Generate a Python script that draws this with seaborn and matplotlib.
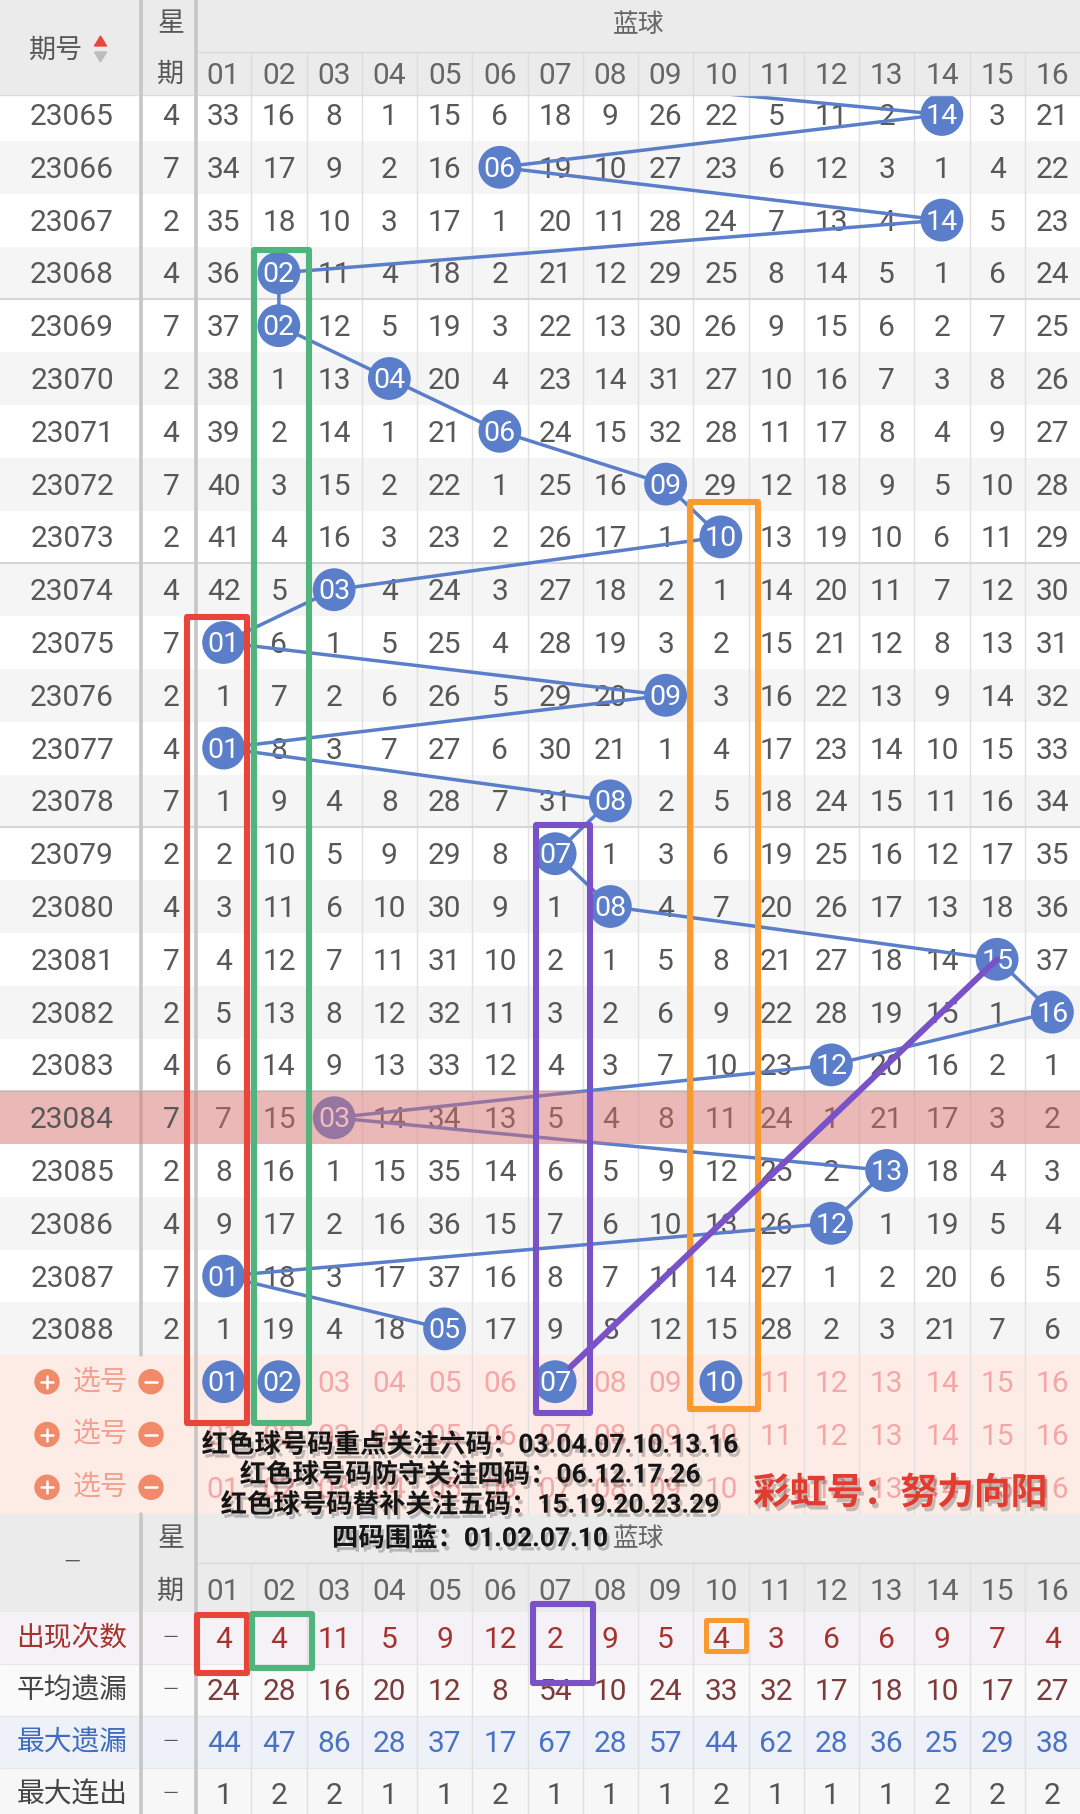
import matplotlib
matplotlib.use("Agg")
import matplotlib.pyplot as plt
import matplotlib.patheffects as pe
from matplotlib.patches import Rectangle, Circle, Polygon
import pandas as pd
import seaborn as sns

# ---------------- data ----------------
periods = [23065, 23066, 23067, 23068, 23069, 23070, 23071, 23072, 23073, 23074, 23075, 23076,
           23077, 23078, 23079, 23080, 23081, 23082, 23083, 23084, 23085, 23086, 23087, 23088]
weekdays = [4, 7, 2, 4, 7, 2, 4, 7, 2, 4, 7, 2, 4, 7, 2, 4, 7, 2, 4, 7, 2, 4, 7, 2]
columns = ["01", "02", "03", "04", "05", "06", "07", "08", "09", "10", "11", "12", "13", "14", "15", "16"]
winners = [14, 6, 14, 2, 2, 4, 6, 9, 10, 3, 1, 9, 1, 8, 7, 8, 15, 16, 12, 3, 13, 12, 1, 5]
prev_winner = 4
omission = [
    [33, 16, 8, 1, 15, 6, 18, 9, 26, 22, 5, 11, 2, 0, 3, 21],
    [34, 17, 9, 2, 16, 0, 19, 10, 27, 23, 6, 12, 3, 1, 4, 22],
    [35, 18, 10, 3, 17, 1, 20, 11, 28, 24, 7, 13, 4, 0, 5, 23],
    [36, 0, 11, 4, 18, 2, 21, 12, 29, 25, 8, 14, 5, 1, 6, 24],
    [37, 0, 12, 5, 19, 3, 22, 13, 30, 26, 9, 15, 6, 2, 7, 25],
    [38, 1, 13, 0, 20, 4, 23, 14, 31, 27, 10, 16, 7, 3, 8, 26],
    [39, 2, 14, 1, 21, 0, 24, 15, 32, 28, 11, 17, 8, 4, 9, 27],
    [40, 3, 15, 2, 22, 1, 25, 16, 0, 29, 12, 18, 9, 5, 10, 28],
    [41, 4, 16, 3, 23, 2, 26, 17, 1, 0, 13, 19, 10, 6, 11, 29],
    [42, 5, 0, 4, 24, 3, 27, 18, 2, 1, 14, 20, 11, 7, 12, 30],
    [0, 6, 1, 5, 25, 4, 28, 19, 3, 2, 15, 21, 12, 8, 13, 31],
    [1, 7, 2, 6, 26, 5, 29, 20, 0, 3, 16, 22, 13, 9, 14, 32],
    [0, 8, 3, 7, 27, 6, 30, 21, 1, 4, 17, 23, 14, 10, 15, 33],
    [1, 9, 4, 8, 28, 7, 31, 0, 2, 5, 18, 24, 15, 11, 16, 34],
    [2, 10, 5, 9, 29, 8, 0, 1, 3, 6, 19, 25, 16, 12, 17, 35],
    [3, 11, 6, 10, 30, 9, 1, 0, 4, 7, 20, 26, 17, 13, 18, 36],
    [4, 12, 7, 11, 31, 10, 2, 1, 5, 8, 21, 27, 18, 14, 0, 37],
    [5, 13, 8, 12, 32, 11, 3, 2, 6, 9, 22, 28, 19, 15, 1, 0],
    [6, 14, 9, 13, 33, 12, 4, 3, 7, 10, 23, 0, 20, 16, 2, 1],
    [7, 15, 0, 14, 34, 13, 5, 4, 8, 11, 24, 1, 21, 17, 3, 2],
    [8, 16, 1, 15, 35, 14, 6, 5, 9, 12, 25, 2, 0, 18, 4, 3],
    [9, 17, 2, 16, 36, 15, 7, 6, 10, 13, 26, 0, 1, 19, 5, 4],
    [0, 18, 3, 17, 37, 16, 8, 7, 11, 14, 27, 1, 2, 20, 6, 5],
    [1, 19, 4, 18, 0, 17, 9, 8, 12, 15, 28, 2, 3, 21, 7, 6],
]
picked = [1, 2, 7, 10]
highlight_period = 23084
stat_labels = ["出现次数", "平均遗漏", "最大遗漏", "最大连出"]
appear_count = [4, 4, 11, 5, 9, 12, 2, 9, 5, 4, 3, 6, 6, 9, 7, 4]
avg_omit = [24, 28, 16, 20, 12, 8, 54, 10, 24, 33, 32, 17, 18, 10, 17, 27]
max_omit = [44, 47, 86, 28, 37, 17, 67, 28, 57, 44, 62, 28, 36, 25, 29, 38]
max_streak = [1, 2, 2, 1, 1, 2, 1, 1, 1, 2, 1, 1, 1, 2, 2, 2]
notes = ["红色球号码重点关注六码：03.04.07.10.13.16",
         "红色球号码防守关注四码：06.12.17.26",
         "红色球号码替补关注五码：15.19.20.23.29",
         "四码围蓝：01.02.07.10"]
signature = "彩虹号：努力向阳"

# ---------------- layout ----------------
W, H = 1080, 1814
XS1, XS2 = 141, 196
CW = 55.25
Y0, RH = 114.5, 52.8
HEAD_SPLIT, HEAD_BOT = 52, 95
SEL_TOP = Y0 + RH * 23.5
SEL_BOT = Y0 + RH * 26.5
BH_SPLIT = 1563
ST_TOP, RS = 1612, 52
TY = 2.5  # optical baseline shift for digits


def cx(c):
    return XS2 + CW * (c - 0.5)


def cy(r):
    return Y0 + RH * r


BALL = "#5a7ec9"
GRAYTXT = "#585858"
FS = 21.5

sns.set_theme(style="white")
plt.rcParams['font.family'] = ['Roboto', 'Noto Sans CJK SC', 'DejaVu Sans']

fig = plt.figure(figsize=(10.8, 18.14), dpi=100)
ax = fig.add_axes([0, 0, 1, 1])

# ---------------- backgrounds ----------------
for r in range(len(periods)):
    ax.add_patch(Rectangle((0, cy(r) - RH / 2), W, RH,
                           color="white" if r % 2 == 0 else "#f5f5f5", zorder=0, lw=0))
ax.add_patch(Rectangle((0, SEL_TOP), W, SEL_BOT - SEL_TOP, color="#fdece6", zorder=0, lw=0))
ax.add_patch(Rectangle((0, SEL_BOT), W, ST_TOP - SEL_BOT, color="#ebebeb", zorder=0, lw=0))
stat_bg = ["#f4f2f6", "#fafafa", "#eef1f8", "#f7f7f7"]
for i in range(4):
    ax.add_patch(Rectangle((0, ST_TOP + RS * i), W, RS, color=stat_bg[i], zorder=0, lw=0))

# grid lines
for k in range(1, 16):
    x = XS2 + CW * k
    ax.plot([x, x], [HEAD_SPLIT, SEL_BOT], color="#e0e0e0", lw=1, zorder=1)
    ax.plot([x, x], [BH_SPLIT, H], color="#e0e0e0", lw=1, zorder=1)
for r in (3, 8, 13, 18):
    ax.plot([0, W], [cy(r) + RH / 2] * 2, color="#d6d6d6", lw=1.5, zorder=1)
ax.plot([XS2, W], [BH_SPLIT, BH_SPLIT], color="#d9d9d9", lw=1, zorder=1)
for i in range(1, 4):
    ax.plot([0, W], [ST_TOP + RS * i] * 2, color="#e6e6e6", lw=0.8, zorder=1)
ax.plot([XS1, XS1], [0, SEL_TOP], color="#c6c6c6", lw=2.6, zorder=1)
ax.plot([XS1, XS1], [SEL_BOT, H], color="#c6c6c6", lw=2.6, zorder=1)
ax.plot([XS2, XS2], [0, H], color="#c6c6c6", lw=2.6, zorder=1)

# ---------------- table numbers ----------------
for r, (p, wd, row) in enumerate(zip(periods, weekdays, omission)):
    zl = 8 if p == highlight_period else 2
    ax.text(72, cy(r) + TY, str(p), ha="center", va="center", fontsize=FS, color=GRAYTXT, zorder=zl)
    ax.text(171, cy(r) + TY, str(wd), ha="center", va="center", fontsize=FS, color=GRAYTXT, zorder=zl)
    for c, v in enumerate(row, start=1):
        if c == winners[r]:
            continue
        ax.text(cx(c), cy(r) + TY, str(v), ha="center", va="center", fontsize=FS, color=GRAYTXT, zorder=2)

# ---------------- trend line + balls (seaborn) ----------------
line_df = pd.DataFrame({
    "x": [cx(prev_winner)] + [cx(w) for w in winners],
    "y": [cy(-1)] + [cy(r) for r in range(len(winners))],
})
sns.lineplot(data=line_df, x="x", y="y", sort=False, estimator=None, color=BALL,
             lw=2.5, ax=ax, zorder=3, legend=False)

ball_df = pd.DataFrame({
    "x": [cx(w) for w in winners] + [cx(c) for c in picked],
    "y": [cy(r) for r in range(len(winners))] + [cy(24)] * len(picked),
    "label": [columns[w - 1] for w in winners] + [columns[c - 1] for c in picked],
})
sns.scatterplot(data=ball_df, x="x", y="y", s=950, color=BALL, edgecolor="none",
                ax=ax, zorder=4, legend=False)
for _, b in ball_df.iterrows():
    ax.text(b.x, b.y + TY - 0.5, b.label, ha="center", va="center", fontsize=20.5,
            color="white", zorder=5)

# highlighted period band
hr = periods.index(highlight_period)
ax.add_patch(Rectangle((0, cy(hr) - RH / 2), W, RH, color=(0.88, 0.43, 0.43), alpha=0.45,
                       zorder=6, lw=0))

# ---------------- header ----------------
ax.add_patch(Rectangle((0, 0), W, HEAD_BOT, color="#ebebeb", zorder=7, lw=0))
ax.plot([XS2, W], [HEAD_SPLIT, HEAD_SPLIT], color="#d9d9d9", lw=1, zorder=7.2)
ax.plot([0, W], [HEAD_BOT, HEAD_BOT], color="#dcdcdc", lw=1, zorder=7.2)
for k in range(1, 16):
    x = XS2 + CW * k
    ax.plot([x, x], [HEAD_SPLIT, HEAD_BOT], color="#dcdcdc", lw=1, zorder=7.2)
ax.plot([XS1, XS1], [0, HEAD_BOT], color="#c6c6c6", lw=2.6, zorder=7.3)
ax.plot([XS2, XS2], [0, HEAD_BOT], color="#c6c6c6", lw=2.6, zorder=7.3)
ax.text(56, 50, "期号", ha="center", va="center", fontsize=19.5, color=GRAYTXT, zorder=8)
ax.add_patch(Polygon([[94.5, 46], [106.5, 46], [100.5, 36]], color="#e8473c", zorder=8))
ax.add_patch(Polygon([[94.5, 52], [106.5, 52], [100.5, 62]], color="#bdbdbd", zorder=8))
ax.text(171, 24, "星", ha="center", va="center", fontsize=19.5, color=GRAYTXT, zorder=8)
ax.text(171, 74, "期", ha="center", va="center", fontsize=19.5, color=GRAYTXT, zorder=8)
ax.text(639, 25, "蓝球", ha="center", va="center", fontsize=18.5, color="#666666", zorder=8)
for c, lab in enumerate(columns, start=1):
    ax.text(cx(c), 73 + TY, lab, ha="center", va="center", fontsize=FS, color="#666666", zorder=8)

# ---------------- selection rows ----------------
for k in range(3):
    y = cy(24 + k)
    ax.add_patch(Circle((47, y), 12, color="#f08a68", zorder=3))
    ax.plot([41, 53], [y, y], color="white", lw=1.8, zorder=3.5)
    ax.plot([47, 47], [y - 6, y + 6], color="white", lw=1.8, zorder=3.5)
    ax.text(100, y + 1, "选号", ha="center", va="center", fontsize=20, color="#f4a08e", zorder=3)
    ax.add_patch(Circle((151, y), 12, color="#f08a68", zorder=3))
    ax.plot([145, 157], [y, y], color="white", lw=1.8, zorder=3.5)
    for c, lab in enumerate(columns, start=1):
        if k == 0 and c in picked:
            continue
        ax.text(cx(c), y + TY, lab, ha="center", va="center", fontsize=FS, color="#f5a7a7", zorder=2)

# ---------------- bottom header & stats ----------------
ax.text(72, 1563, "－", ha="center", va="center", fontsize=14, color=GRAYTXT, zorder=2)
ax.text(171, 1539, "星", ha="center", va="center", fontsize=19.5, color=GRAYTXT, zorder=2)
ax.text(171, 1591, "期", ha="center", va="center", fontsize=19.5, color=GRAYTXT, zorder=2)
ax.text(639, 1539, "蓝球", ha="center", va="center", fontsize=18.5, color="#666666", zorder=2)
for c, lab in enumerate(columns, start=1):
    ax.text(cx(c), 1590 + TY, lab, ha="center", va="center", fontsize=FS, color="#666666", zorder=2)

stat_vals = [appear_count, avg_omit, max_omit, max_streak]
lab_colors = ["#a8322d", "#444444", "#3f6cc0", "#444444"]
val_colors = ["#a8322d", "#7d3b3b", "#4a72c4", "#555555"]
for i in range(4):
    y = ST_TOP + RS * (i + 0.5)
    ax.text(72, y + 1, stat_labels[i], ha="center", va="center", fontsize=20, color=lab_colors[i], zorder=2)
    ax.text(171, y, "－", ha="center", va="center", fontsize=13, color=GRAYTXT, zorder=2)
    for c, v in enumerate(stat_vals[i], start=1):
        ax.text(cx(c), y + TY, str(v), ha="center", va="center", fontsize=FS, color=val_colors[i], zorder=2)

# ---------------- hand-drawn annotation boxes ----------------
def box(x0, x1, y0, y1, color, lw=4.4):
    ax.add_patch(Rectangle((x0, y0), x1 - x0, y1 - y0, fill=False, edgecolor=color, lw=lw,
                           joinstyle="round", zorder=9))

RED, GREEN, PURPLE, ORANGE = "#e8443a", "#4fb57c", "#7a52c8", "#f79a30"
box(cx(1) - 37, cx(1) + 23, cy(10) - 26, cy(24) + 41, RED)
box(cx(2) - 25, cx(2) + 30, cy(3) - 23, cy(24) + 41, GREEN)
box(cx(7) - 19, cx(7) + 35, cy(14) - 29, cy(24) + 31, PURPLE)
box(cx(10) - 31, cx(10) + 37, cy(8) - 35, cy(24) + 27, ORANGE)
box(cx(1) - 27, cx(1) + 23, ST_TOP + 3, ST_TOP + 61, RED)
box(cx(2) - 27, cx(2) + 33, ST_TOP + 2, ST_TOP + 56, GREEN)
box(cx(7) - 22, cx(7) + 38, ST_TOP - 8, ST_TOP + 71, PURPLE)
box(cx(10) - 15, cx(10) + 25, ST_TOP + 8, ST_TOP + 39, ORANGE, lw=3.6)

# purple connector from picked 07 to the 15 ball
x0, y0, x1, y1 = cx(7), cy(24), cx(15), cy(16)
d = ((x1 - x0) ** 2 + (y1 - y0) ** 2) ** 0.5
ax.plot([x0 + (x1 - x0) * 21 / d, x1], [y0 + (y1 - y0) * 21 / d, y1], color=PURPLE, lw=4.4,
        solid_capstyle="round", zorder=9)

# ---------------- overlaid notes ----------------
shadow = [pe.SimplePatchShadow(offset=(2, -3), shadow_rgbFace="black", alpha=0.22), pe.Normal()]
for txt, y in zip(notes, [1445, 1475, 1505, 1539]):
    ax.text(470, y, txt, ha="center", va="center", fontsize=19, fontweight="bold",
            color="#151515", zorder=10, path_effects=shadow)
ax.text(900, 1494, signature, ha="center", va="center", fontsize=26.5, fontweight="bold",
        color="#e33b2f", zorder=10, path_effects=shadow)

ax.set_xlim(0, W)
ax.set_ylim(H, 0)
ax.axis("off")
fig.savefig("out.png", dpi=100)
